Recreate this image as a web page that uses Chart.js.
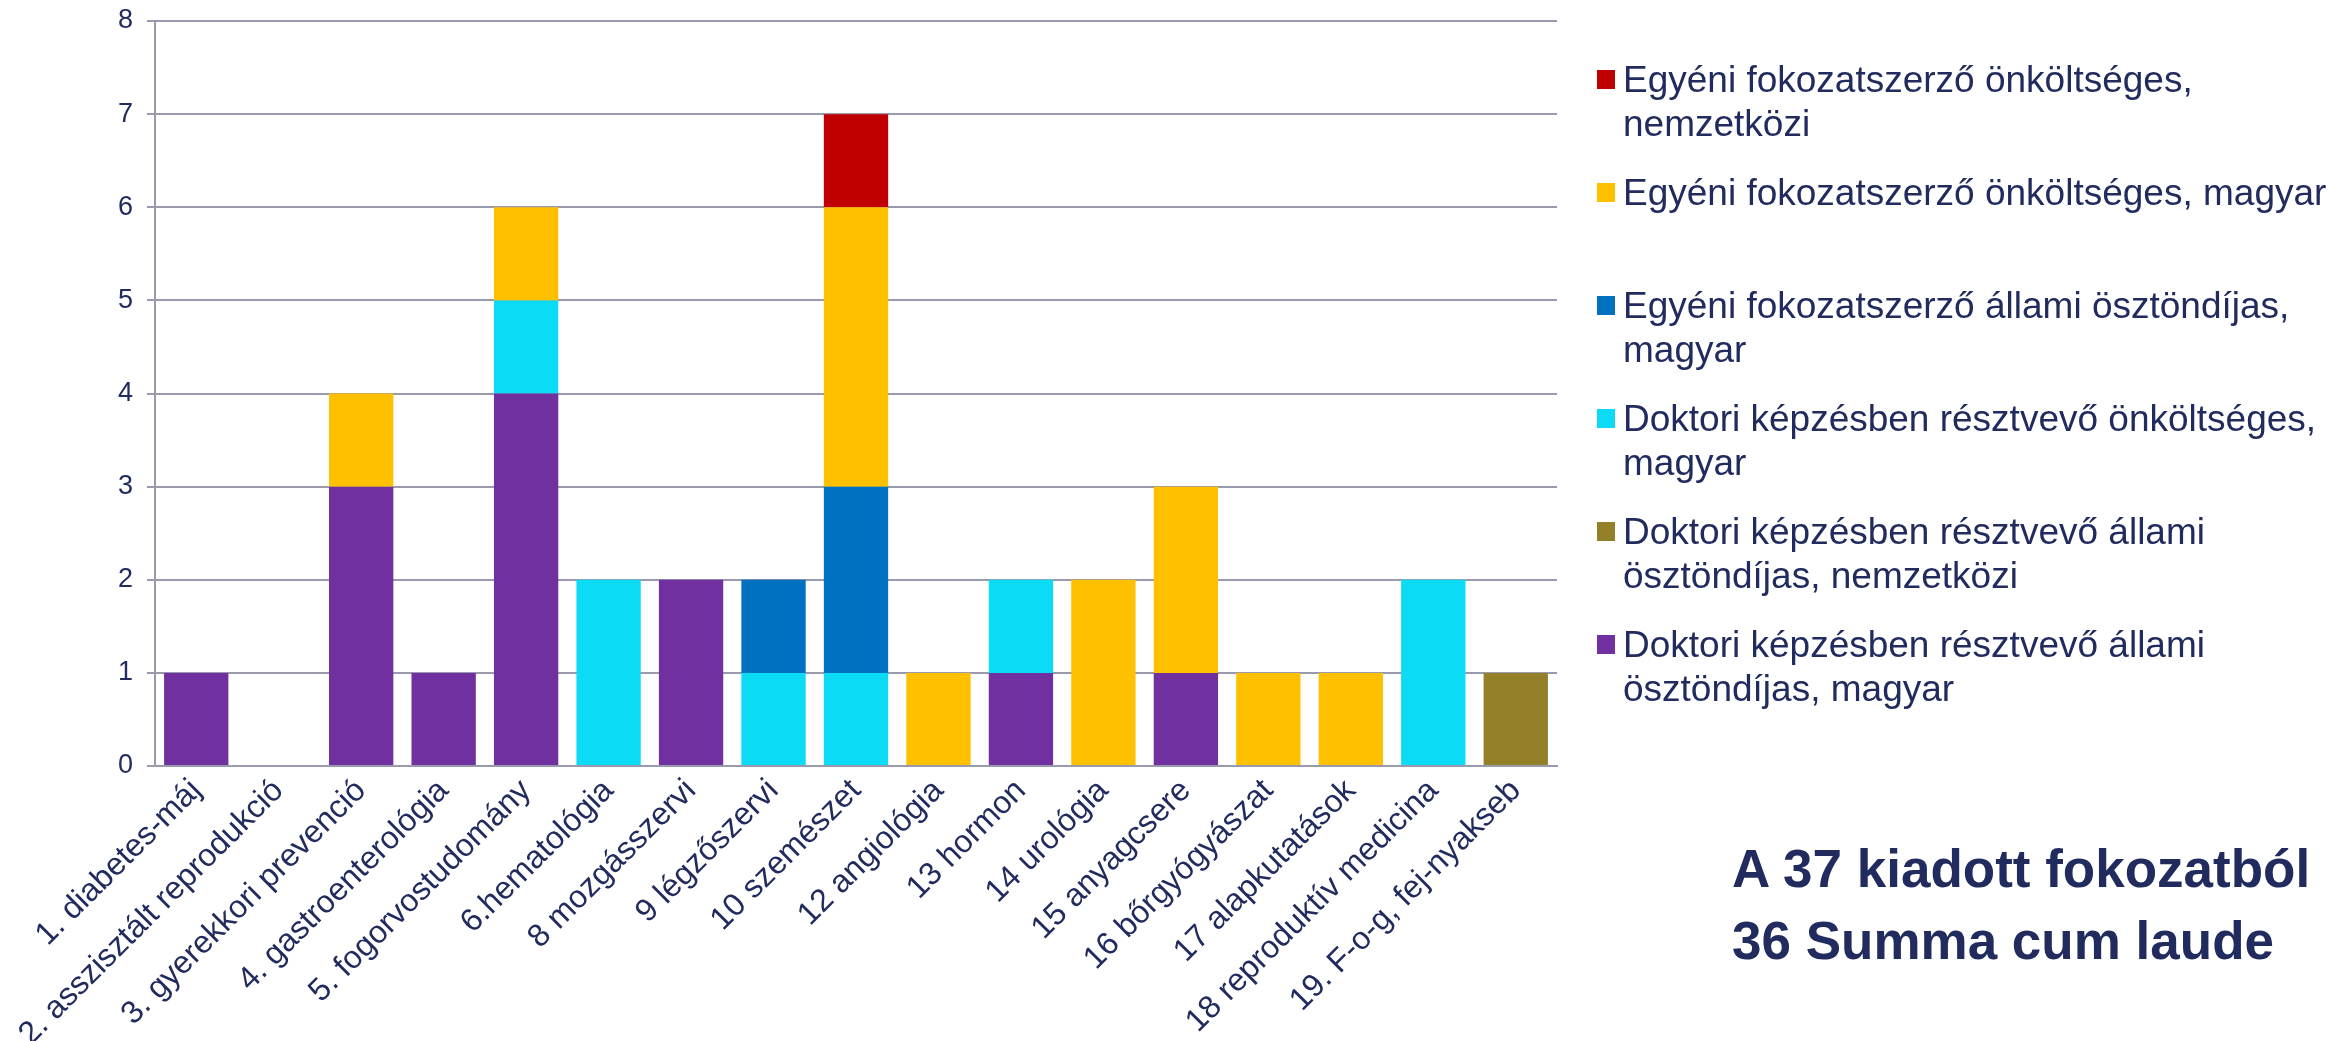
<!DOCTYPE html>
<html>
<head>
<meta charset="utf-8">
<script src="https://cdn.jsdelivr.net/npm/chart.js@4"></script>
<style>
  html, body { margin: 0; padding: 0; background: #ffffff; }
  #wrap { position: relative; width: 2341px; height: 1041px; overflow: hidden; }
  #c { position: absolute; left: 0; top: 0; }
  #legend { position: absolute; left: 1597px; top: 58px; width: 740px; font-family: "Liberation Sans", Arial, sans-serif; color: #222B5E; }
  .item { position: relative; height: 113px; }
  .sw { position: absolute; left: 0; top: 12px; width: 18px; height: 19px; }
  .tx { position: absolute; left: 26px; top: 0; max-width: 715px; font-size: 37px; line-height: 44px; }
  #note { position: absolute; left: 1732px; top: 833px; font-family: "Liberation Sans", Arial, sans-serif; font-weight: bold; font-size: 53px; line-height: 72px; color: #222B5E; white-space: nowrap; }
</style>
</head>
<body>
<div id="wrap">
  <canvas id="c" width="2341" height="1041"></canvas>
  <div id="legend"></div>
  <div id="note">A 37 kiadott fokozatból<br>36 Summa cum laude</div>
</div>
<script>
const categories = [
  "1. diabetes-máj", "2. asszisztált reprodukció", "3. gyerekkori prevenció",
  "4. gastroenterológia", "5. fogorvostudomány", "6.hematológia", "8 mozgásszervi",
  "9 légzőszervi", "10 szemészet", "12 angiológia", "13 hormon", "14 urológia",
  "15 anyagcsere", "16 bőrgyógyászat", "17 alapkutatások", "18 reproduktív medicina",
  "19. F-o-g, fej-nyakseb"
];
const yTicks = [0, 1, 2, 3, 4, 5, 6, 7, 8];

// series, bottom of stack first
const doktoriAllamiMagyar      = [1, 0, 3, 1, 4, 0, 2, 0, 0, 0, 1, 0, 1, 0, 0, 0, 0];
const doktoriAllamiNemzetkozi  = [0, 0, 0, 0, 0, 0, 0, 0, 0, 0, 0, 0, 0, 0, 0, 0, 1];
const doktoriOnkoltsegesMagyar = [0, 0, 0, 0, 1, 2, 0, 1, 1, 0, 1, 0, 0, 0, 0, 2, 0];
const egyeniAllamiMagyar       = [0, 0, 0, 0, 0, 0, 0, 1, 2, 0, 0, 0, 0, 0, 0, 0, 0];
const egyeniOnkoltsegesMagyar  = [0, 0, 1, 0, 1, 0, 0, 0, 3, 1, 0, 2, 2, 1, 1, 0, 0];
const egyeniOnkoltsegesNemzetk = [0, 0, 0, 0, 0, 0, 0, 0, 1, 0, 0, 0, 0, 0, 0, 0, 0];

const seriesNames = [
  "Doktori képzésben résztvevő állami ösztöndíjas, magyar",
  "Doktori képzésben résztvevő állami ösztöndíjas, nemzetközi",
  "Doktori képzésben résztvevő önköltséges, magyar",
  "Egyéni fokozatszerző állami ösztöndíjas, magyar",
  "Egyéni fokozatszerző önköltséges, magyar",
  "Egyéni fokozatszerző önköltséges, nemzetközi"
];
const seriesData = [doktoriAllamiMagyar, doktoriAllamiNemzetkozi, doktoriOnkoltsegesMagyar,
                    egyeniAllamiMagyar, egyeniOnkoltsegesMagyar, egyeniOnkoltsegesNemzetk];
const seriesColors = ["#7030A0", "#95802A", "#0CDBF6", "#0070C0", "#FFC000", "#C00000"];

const textColor = "#222B5E";
const gridColor = "#9A9AAE";

const datasets = seriesNames.map((name, i) => ({
  label: name,
  data: seriesData[i],
  backgroundColor: seriesColors[i],
  borderWidth: 0,
  barPercentage: 0.78,
  categoryPercentage: 1.0
}));

const chart = new Chart(document.getElementById("c"), {
  type: "bar",
  data: { labels: categories, datasets: datasets },
  options: {
    responsive: false,
    animation: false,
    devicePixelRatio: 1,
    layout: { padding: { left: 0, top: 21, right: 784, bottom: 0 } },
    plugins: { legend: { display: false }, tooltip: { enabled: false } },
    scales: {
      x: {
        stacked: true,
        grid: { display: false, drawTicks: false },
        border: { display: true, color: gridColor, width: 2 },
        ticks: {
          autoSkip: false, maxRotation: 45, minRotation: 45, padding: 6,
          color: textColor,
          font: { family: "Liberation Sans, Arial, sans-serif", size: 32 }
        },
        afterFit: (s) => { s.height = 1041 - 766; s.paddingLeft = 0; s.paddingRight = 0; }
      },
      y: {
        stacked: true,
        min: 0, max: 8,
        afterBuildTicks: (s) => { s.ticks = yTicks.map(v => ({ value: v })); },
        grid: { color: gridColor, lineWidth: 2, tickLength: 8, drawTicks: true },
        border: { display: true, color: gridColor, width: 2 },
        ticks: {
          padding: 14, color: textColor,
          font: { family: "Liberation Sans, Arial, sans-serif", size: 27 }
        },
        afterFit: (s) => { s.width = 155; s.paddingTop = 0; s.paddingBottom = 0; }
      }
    }
  }
});

// HTML legend built from the chart's datasets (top of stack first)
const legend = document.getElementById("legend");
chart.data.datasets.slice().reverse().forEach(ds => {
  const item = document.createElement("div");
  item.className = "item";
  const sw = document.createElement("div");
  sw.className = "sw";
  sw.style.background = ds.backgroundColor;
  const tx = document.createElement("div");
  tx.className = "tx";
  tx.textContent = ds.label;
  item.appendChild(sw);
  item.appendChild(tx);
  legend.appendChild(item);
});
</script>
</body>
</html>
